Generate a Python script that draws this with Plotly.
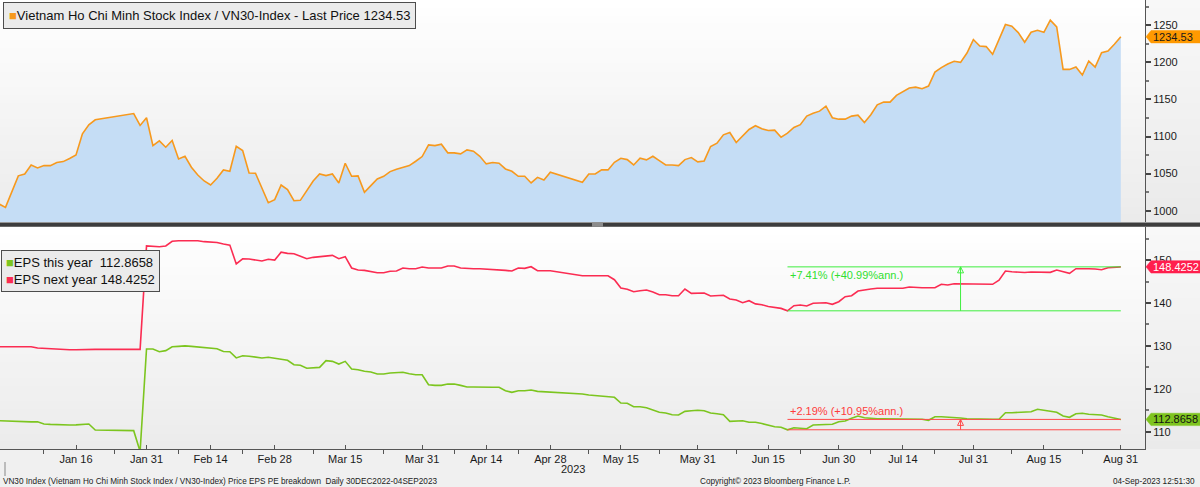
import plotly.graph_objects as go
import pandas as pd

FONT = "Liberation Sans"

# ---------------- data ----------------
closed_days = ["2023-01-02", "2023-01-20", "2023-01-23", "2023-01-24", "2023-01-25",
               "2023-01-26", "2023-05-01", "2023-05-02", "2023-05-03", "2023-05-04"]
dates = [d.strftime("%Y-%m-%d") for d in pd.bdate_range("2022-12-29", "2023-08-31")
         if d.strftime("%Y-%m-%d") not in closed_days]

price = [
    1009, 1004.5,
    1047, 1049.5, 1061.7, 1057.7, 1060.8, 1060.8, 1064.9, 1066.2, 1070.3, 1075.2, 1103.6, 1115.8, 1122.5, 1131, 1115, 1125.3,
    1087.8, 1094.2, 1085.6, 1094.6, 1069.8, 1073.4, 1058.6, 1048.2, 1040.1, 1034.7, 1043.7, 1055, 1053.2, 1086.9, 1081.1,
    1050.9, 1050.5, 1030.6, 1010.8, 1014.9,
    1034.7, 1028.4, 1013.5, 1014, 1027, 1040.1, 1049.5, 1047.3, 1049.5, 1037.4, 1064, 1046.4, 1046.9, 1024.7, 1033.8,
    1042.8, 1046.4, 1052.7, 1056, 1058.5, 1060.8, 1066.7, 1073,
    1088.7, 1087.8, 1089.6, 1078, 1078, 1076.6, 1082, 1080.2, 1073.4, 1063.1, 1064.9, 1064, 1056.3, 1053.2, 1046.4, 1046.4,
    1037.4, 1045, 1041.4, 1051.8,
    1038.3, 1049.5, 1049.5, 1055, 1055, 1065.3, 1070.7, 1068.9, 1061.7, 1070.7, 1068.5, 1073.4, 1067.6, 1061.7, 1061.7,
    1060.8, 1068.9, 1071.6, 1065.8,
    1067.1, 1086.5, 1091, 1102.3, 1105.4, 1091.9, 1101.4, 1109.5, 1114.5, 1110.4, 1108.1, 1108.6, 1099.1, 1104.5, 1112.2,
    1116, 1127.5, 1131.5, 1134.2, 1141, 1125.3, 1123.4,
    1123.4, 1127.5, 1128.8, 1118.9, 1129.3, 1142.8, 1146.4, 1146.4, 1155.4, 1160.4, 1165.3, 1166.6, 1164.4, 1168, 1186.9,
    1192.8, 1197.7, 1201.4, 1200, 1212.6, 1230.7,
    1222, 1221.2, 1210.8, 1230.7, 1250.9, 1248.6, 1240.1, 1227, 1240.5, 1243.2, 1240.5, 1256.8, 1247.7, 1190.5, 1190.5,
    1193.6, 1182.8, 1201.8, 1193.6, 1213.1, 1215.3, 1224.3, 1234.53,
]

eps_next = [
    129.8, 129.8,
    129.75, 129.7, 129.8, 129.5, 129.4, 129.3, 129.25, 129.2, 129.1, 129.1, 129.15, 129.2, 129.2, 129.2, 129.2, 153.3,
    153.2, 153.1, 153.3, 154.4, 154.5, 154.5, 154.5, 154.5, 154.3, 154.2, 154.1, 153.75, 153.5, 149.1, 150.3, 150.25,
    149.95, 149.8, 150.2, 150.0,
    151.85, 151.58, 151.5, 150.95, 150.33, 150.65, 150.8, 150.95, 151.1, 150.33, 150.8, 148.16, 147.7, 147.6, 147.4,
    147.07, 147.07, 147.4, 147.46, 148.16, 148.0, 148.0, 148.39,
    148.16, 148.16, 148.16, 148.62, 148.62, 148.16, 148.0, 148.0, 148.0, 147.9, 147.85, 147.85, 147.6, 147.46, 148.16,
    148.08, 148.46, 147.53, 147.53, 147.53,
    146.36, 146.36, 146.36, 146.2, 146.36, 145.43, 143.5, 143.2, 142.63, 142.87, 143.03, 142.56, 141.94, 141.94, 141.7,
    141.7, 143.26, 142.26, 142.33,
    142.33, 141.63, 141.8, 141.8, 140.93, 140.7, 140.07, 140.54, 139.8, 139.6, 139.2, 138.9, 138.75, 138.18, 139.37,
    139.53, 139.3, 139.93, 140.07, 140.07, 139.7, 140.3,
    141.47, 141.7, 142.8, 143.1, 143.26, 143.43, 143.43, 143.43, 143.43, 143.43, 143.73, 143.57, 143.57, 143.57, 143.57,
    144.36, 144.2, 144.5, 144.5, 144.43, 144.36,
    144.36, 144.36, 144.36, 145.3, 147.46, 147.3, 147.15, 147.1, 147.23, 147.15, 147.15, 147.15, 147.7, 147.3, 146.92,
    148.0, 148.08, 148.0, 147.93, 147.77, 148.23, 148.39, 148.4252,
]

eps_this = [
    112.56, 112.5,
    112.33, 112.2, 112.3, 112.3, 111.8, 111.7, 111.6, 111.56, 111.56, 111.6, 111.7, 111.8, 110.4, 110.25, 105.4, 129.28,
    129.28, 128.65, 128.9, 129.8, 129.9, 130.0, 129.9, 129.8, 129.67, 129.5, 129.35, 128.7, 128.65, 127.2, 127.7, 127.6,
    127.35, 127.2, 127.35, 127.1,
    127.0, 126.64, 125.62, 125.48, 124.78, 124.85, 125.0, 126.55, 126.4, 125.78, 126.4, 124.62, 124.45, 124.08, 123.92,
    123.45, 123.45, 123.68, 123.68, 123.85, 123.52, 123.29, 123.29,
    120.96, 120.8, 120.8, 121.1, 121.1, 120.8, 120.42, 120.42, 120.35, 120.42, 120.38, 120.35, 119.56, 119.18, 119.56,
    119.56, 119.72, 119.41, 119.32, 119.32,
    118.79, 118.55, 118.39, 118.25, 118.16, 118.02, 116.69, 116.62, 115.83, 115.83, 115.6, 115.13, 114.52, 114.36, 113.96,
    113.89, 114.75, 114.9, 114.99,
    114.9, 114.36, 114.2, 113.96, 112.42, 112.42, 112.56, 112.19, 112.19, 111.9, 111.5, 111.15, 111.03, 110.45, 110.93,
    110.86, 110.7, 111.56, 111.63, 111.72, 111.72, 112.33,
    112.49, 113.12, 113.66, 113.26, 113.12, 113.03, 113.03, 113.03, 112.96, 113.03, 112.96, 112.96, 112.89, 112.66, 113.5,
    113.5, 113.43, 113.26, 113.19, 113.03, 112.96,
    112.89, 112.89, 112.89, 112.89, 114.43, 114.43, 114.5, 114.43, 114.66, 115.22, 114.99, 114.83, 114.52, 113.66, 113.36,
    114.2, 114.29, 114.06, 113.96, 113.89, 113.5, 113.12, 112.8658,
]

assert len(dates) == len(price) == len(eps_next) == len(eps_this), (len(dates), len(price), len(eps_next), len(eps_this))

xtick_dates = ["2023-01-16", "2023-01-31", "2023-02-14", "2023-02-28", "2023-03-15", "2023-03-31",
               "2023-04-14", "2023-04-28", "2023-05-15", "2023-05-31", "2023-06-15", "2023-06-30",
               "2023-07-14", "2023-07-31", "2023-08-15", "2023-08-31"]
xtick_text = ["Jan 16", "Jan 31", "Feb 14", "Feb 28", "Mar 15", "Mar 31", "Apr 14", "Apr 28",
              "May 15", "May 31", "Jun 15", "Jun 30", "Jul 14", "Jul 31", "Aug 15", "Aug 31"]
xminor_dates = ["2023-01-09", "2023-01-24", "2023-02-07", "2023-02-21", "2023-03-08", "2023-03-23",
                "2023-04-07", "2023-04-21", "2023-05-08", "2023-05-23", "2023-06-08", "2023-06-22",
                "2023-07-07", "2023-07-21", "2023-08-08", "2023-08-23"]
x_range = ["2022-12-29 03:24", "2023-09-05 18:36"]
top_range = [984.8, 1284.0]
bot_range = [105.97, 157.72]

measure_start = "2023-06-20"
measure_end = "2023-08-31"
measure_arrow = "2023-07-27"
measure_text_next = "+7.41% (+40.99%ann.)"
measure_text_this = "+2.19% (+10.95%ann.)"

price_name = "Vietnam Ho Chi Minh Stock Index / VN30-Index - Last Price"
footer_left = "VN30 Index (Vietnam Ho Chi Minh Stock Index / VN30-Index) Price EPS PE breakdown  Daily 30DEC2022-04SEP2023"
footer_mid = "Copyright\u00a9 2023 Bloomberg Finance L.P."
footer_right = "04-Sep-2023 12:51:30"

# ---------------- styles ----------------
C_PRICE = "#f7991d"
C_FILL = "#c5ddf5"
C_NEXT = "#fb2c52"
C_THIS = "#7cc51f"
C_MEAS_G = "#3fee3f"
C_MEAS_R = "#ff4a4a"

W, H = 1200, 487
ML, MR, MT, MB = 0, 55, 0, 38
PW, PH = W - ML - MR, H - MT - MB   # 1145 x 449
TOP_DOM = [227 / PH, 1.0]
BOT_DOM = [0.0, 222 / PH]
XR = W / PW  # paper x of right image edge

fig = go.Figure()

fig.add_trace(go.Scatter(x=dates, y=price, mode="lines", line=dict(color=C_PRICE, width=1.6),
                         fill="tozeroy", fillcolor=C_FILL, xaxis="x2", yaxis="y2",
                         showlegend=False, hoverinfo="skip"))
fig.add_trace(go.Scatter(x=dates, y=eps_next, mode="lines", line=dict(color=C_NEXT, width=1.6),
                         xaxis="x", yaxis="y", showlegend=False, hoverinfo="skip"))
fig.add_trace(go.Scatter(x=dates, y=eps_this, mode="lines", line=dict(color=C_THIS, width=1.6),
                         xaxis="x", yaxis="y", showlegend=False, hoverinfo="skip"))

# trend measures
i0 = dates.index(measure_start)
hi_next, lo_next = eps_next[-1], eps_next[i0]
hi_this, lo_this = eps_this[-1], eps_this[i0]

shapes = []


def mix(c1, c2, t):
    a = [int(c1[i:i + 2], 16) for i in (1, 3, 5)]
    b = [int(c2[i:i + 2], 16) for i in (1, 3, 5)]
    return "#" + "".join("%02x" % round(a[k] + (b[k] - a[k]) * t) for k in range(3))


def gradient(x0, x1, y0, y1, top, bottom, n=28):
    for i in range(n):
        ya = y0 + (y1 - y0) * i / n
        yb = y0 + (y1 - y0) * (i + 1) / n + 0.002
        t = (i + 0.5) / n
        shapes.append(dict(type="rect", xref="paper", yref="paper", x0=x0, x1=x1, y0=ya, y1=min(yb, y1),
                           fillcolor=mix(bottom, top, t), line=dict(width=0), layer="below"))


gradient(0, 1, TOP_DOM[0], TOP_DOM[1], "#ffffff", "#ebebeb")
gradient(0, 1, BOT_DOM[0], BOT_DOM[1], "#ffffff", "#ebebeb")
gradient(1, XR, TOP_DOM[0], TOP_DOM[1], "#f8f8f8", "#eaeaea")
gradient(1, XR, BOT_DOM[0], BOT_DOM[1], "#f8f8f8", "#eaeaea")

# separator between panels
shapes.append(dict(type="rect", xref="paper", yref="paper", x0=0, x1=XR,
                   y0=(PH - 226.8) / PH, y1=(PH - 222.6) / PH, fillcolor="#3d3d3d",
                   line=dict(width=0), layer="above"))
shapes.append(dict(type="rect", xref="paper", yref="paper", x0=592 / PW, x1=603 / PW,
                   y0=(PH - 226.8) / PH, y1=(PH - 222.6) / PH, fillcolor="#8c8c8c",
                   line=dict(width=0), layer="above"))
# year boundary marker under the axis
shapes.append(dict(type="line", xref="paper", yref="paper", x0=5 / PW, x1=5 / PW,
                   y0=(PH - 462) / PH, y1=(PH - 476) / PH, line=dict(color="#888888", width=1)))

for hi, lo, col in ((hi_next, lo_next, C_MEAS_G), (hi_this, lo_this, C_MEAS_R)):
    for yv in (hi, lo):
        shapes.append(dict(type="line", xref="x", yref="y", x0=measure_start, x1=measure_end,
                           y0=yv, y1=yv, line=dict(color=col, width=1), layer="above"))
    shapes.append(dict(type="line", xref="x", yref="y", x0=measure_arrow, x1=measure_arrow,
                       y0=lo, y1=hi, line=dict(color=col, width=1), layer="above"))

fig.add_trace(go.Scatter(x=[measure_arrow, measure_arrow], y=[hi_next, hi_this], mode="markers",
                         marker=dict(symbol="arrow-up-open", size=6, color=[C_MEAS_G, C_MEAS_R],
                                     line=dict(width=1, color=[C_MEAS_G, C_MEAS_R])),
                         xaxis="x", yaxis="y", showlegend=False, hoverinfo="skip"))

# value tags on the right axis
tags = [("y2", price[-1], "%.2f" % price[-1], "#ff9900", "#1a1a1a"),
        ("y", eps_next[-1], "%.4f" % eps_next[-1], "#ff1f4d", "#ffffff"),
        ("y", eps_this[-1], "%.4f" % eps_this[-1], "#7ec41f", "#111111")]
annotations = []
for yref, val, txt, bg, fg in tags:
    shapes.append(dict(type="path", xref="paper", yref=yref, xsizemode="pixel", ysizemode="pixel",
                       xanchor=1, yanchor=val, path="M1,0 L6,6.2 L56,6.2 L56,-6.2 L6,-6.2 Z",
                       fillcolor=bg, line=dict(color=bg, width=0.5), layer="above"))
    annotations.append(dict(xref="paper", yref=yref, x=1, y=val, xanchor="left", yanchor="middle",
                            xshift=6, text=txt, showarrow=False,
                            font=dict(family=FONT, size=11, color=fg)))

# legends
SQ = "<span style='color:%s;font-size:13px'>\u25a0</span>"
annotations.append(dict(xref="paper", yref="paper", x=0, y=1, xanchor="left", yanchor="top",
                        xshift=3, yshift=-2, align="left", showarrow=False,
                        text=(SQ % C_PRICE) + "%s %.2f" % (price_name, price[-1]),
                        font=dict(family=FONT, size=13, color="#111111"),
                        bgcolor="#ebebeb", bordercolor="#4d4d4d", borderwidth=1, borderpad=5))
annotations.append(dict(xref="paper", yref="paper", x=0, y=(PH - 250) / PH, xanchor="left", yanchor="top",
                        xshift=1, align="left", showarrow=False,
                        text=((SQ % C_THIS) + "EPS this year\u00a0 %.4f<br>" % eps_this[-1]
                              + (SQ % C_NEXT) + "EPS next year %.4f" % eps_next[-1]),
                        font=dict(family=FONT, size=13, color="#111111"),
                        bgcolor="#ebebeb", bordercolor="#4d4d4d", borderwidth=1, borderpad=4))

# measure labels
annotations.append(dict(xref="x", yref="y", x=measure_start, y=hi_next, xanchor="left", yanchor="top",
                        xshift=1, showarrow=False, text=measure_text_next,
                        font=dict(family=FONT, size=11, color="#2fe02f")))
annotations.append(dict(xref="x", yref="y", x=measure_start, y=hi_this, xanchor="left", yanchor="bottom",
                        xshift=1, showarrow=False, text=measure_text_this,
                        font=dict(family=FONT, size=11, color="#ff3b3b")))

# year + footer
annotations.append(dict(xref="paper", yref="paper", x=0.5, y=(PH - 469) / PH, xanchor="center",
                        yanchor="middle", showarrow=False, text="2023",
                        font=dict(family=FONT, size=11, color="#222222")))
annotations.append(dict(xref="paper", yref="paper", x=0, y=(PH - 481) / PH, xanchor="left",
                        yanchor="middle", xshift=1, showarrow=False, text=footer_left,
                        font=dict(family=FONT, size=8.2, color="#222222")))
annotations.append(dict(xref="paper", yref="paper", x=775 / PW, y=(PH - 481) / PH, xanchor="center",
                        yanchor="middle", showarrow=False, text=footer_mid,
                        font=dict(family=FONT, size=8.2, color="#222222")))
annotations.append(dict(xref="paper", yref="paper", x=1197 / PW, y=(PH - 481) / PH, xanchor="right",
                        yanchor="middle", showarrow=False, text=footer_right,
                        font=dict(family=FONT, size=8.2, color="#222222")))

breaks = [dict(bounds=["sat", "mon"])]
tickfont = dict(family=FONT, size=11, color="#1a1a1a")

fig.update_layout(
    width=W, height=H, autosize=False,
    margin=dict(l=ML, r=MR, t=MT, b=MB, pad=0),
    paper_bgcolor="#f0f0f0", plot_bgcolor="rgba(0,0,0,0)",
    showlegend=False,
    xaxis=dict(domain=[0, 1], anchor="y", type="date", range=x_range, rangebreaks=breaks,
               tickmode="array", tickvals=xtick_dates, ticktext=xtick_text, tickfont=tickfont,
               ticks="inside", ticklen=4, tickcolor="#555555", showline=True, linecolor="#555555",
               linewidth=1, showgrid=False, zeroline=False,
               minor=dict(tickmode="array", tickvals=xminor_dates, ticks="outside", ticklen=4,
                          tickcolor="#555555", showgrid=False)),
    xaxis2=dict(domain=[0, 1], anchor="y2", type="date", matches="x", range=x_range, rangebreaks=breaks,
                showticklabels=False, ticks="", showline=False, showgrid=False, zeroline=False),
    yaxis=dict(domain=BOT_DOM, anchor="x", side="right", range=bot_range, tickmode="linear",
               tick0=0, dtick=10, tickfont=tickfont, ticks="outside", ticklen=5, tickwidth=1.5,
               tickcolor="#444444", showline=True, linecolor="#555555", linewidth=1,
               showgrid=False, zeroline=False,
               minor=dict(dtick=5, tick0=0, ticks="outside", ticklen=3, tickcolor="#777777", showgrid=False)),
    yaxis2=dict(domain=TOP_DOM, anchor="x2", side="right", range=top_range, tickmode="linear",
                tick0=0, dtick=50, tickfont=tickfont, ticks="outside", ticklen=5, tickwidth=1.5,
                tickcolor="#444444", showline=True, linecolor="#555555", linewidth=1,
                showgrid=False, zeroline=False,
                minor=dict(dtick=25, tick0=0, ticks="outside", ticklen=3, tickcolor="#777777", showgrid=False)),
    shapes=shapes,
    annotations=annotations,
)

fig.write_html("out.html")
